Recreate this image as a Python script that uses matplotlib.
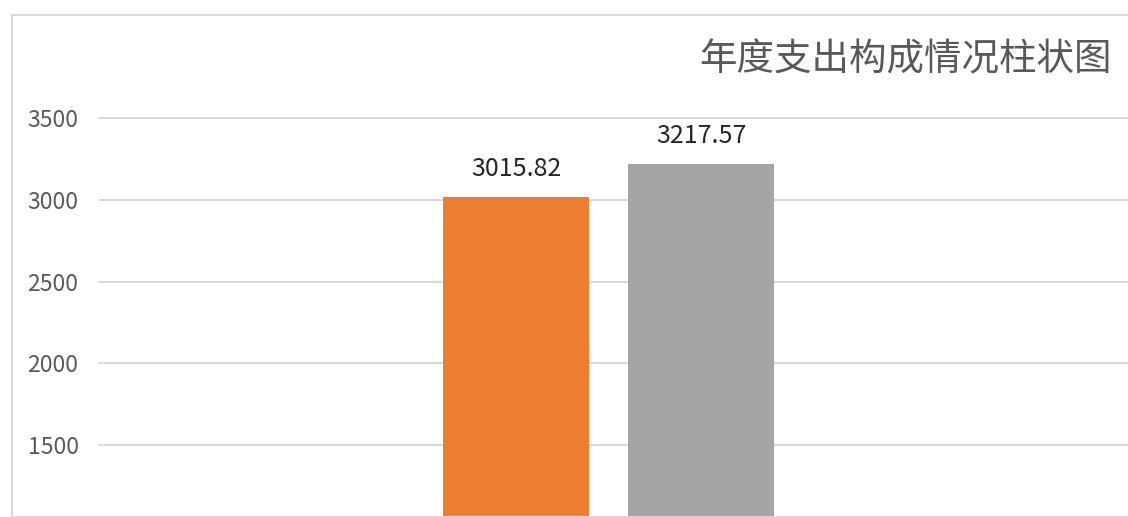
import matplotlib.pyplot as plt
from matplotlib.patches import Rectangle

plt.rcParams['font.family'] = ['Noto Sans CJK SC', 'DejaVu Sans']

# DATA
SERIES = ["支出A", "支出B"]
VALUES = [3015.82, 3217.57]
COLORS = ["#ED7D31", "#A5A5A5"]
YTICKS = [1500, 2000, 2500, 3000, 3500]
TITLE = "年度支出构成情况柱状图"

W, H = 1128, 517
fig = plt.figure(figsize=(W / 100, H / 100), dpi=100)

# chart frame (cropped at right and bottom)
fig.patches.append(Rectangle((11.5 / W, 0), 1.2, 1 - 14.5 / H,
                             transform=fig.transFigure, fill=False,
                             ec="#d9d9d9", lw=1.5))

# plot area: x 98..1128 px, y 100..517 px
ax = fig.add_axes([98 / W, 0, 1 - 98 / W, 1 - 100 / H])

x = list(range(len(VALUES)))
bars = ax.bar(x, VALUES, width=0.787, color=COLORS, zorder=3)
for b, v in zip(bars, VALUES):
    ax.text(b.get_x() + b.get_width() / 2, v + 95, f"{v:.2f}",
            ha="center", va="bottom", fontsize=18, color="#262626")

ax.set_xlim(-2.253, 3.299)
ax.set_ylim(1061, 3610)
ax.set_yticks(YTICKS)
ax.set_xticks([])
ax.yaxis.grid(True, color="#d9d9d9", lw=1.5, zorder=0)
ax.tick_params(axis="y", length=0, pad=14, labelsize=16.5, labelcolor="#595959")
for s in ax.spines.values():
    s.set_visible(False)

fig.text(1112 / W, 1 - 60 / H, TITLE, ha="right", va="center",
         fontsize=27, color="#595959")

plt.savefig("out.png", dpi=100)
plt.close()
